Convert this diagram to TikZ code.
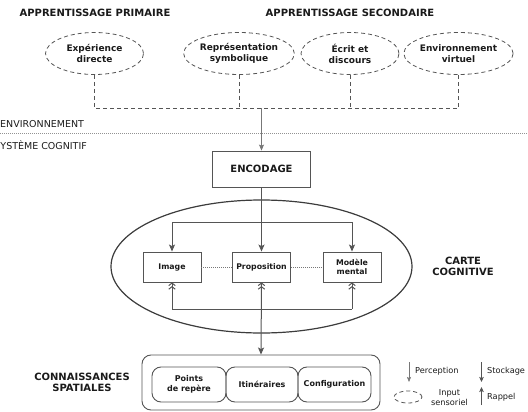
\documentclass[tikz,border=0pt]{standalone}
\usepackage{fontspec}
\setmainfont{DejaVu Sans}
\usetikzlibrary{arrows.meta,shapes.geometric}
\definecolor{ln}{HTML}{555555}
\definecolor{lt}{HTML}{777777}
\definecolor{tx}{HTML}{1A1A1A}
\begin{document}
\begin{tikzpicture}[x=1pt,y=-1pt,
  every node/.style={text=tx},
  title/.style={font=\bfseries\fontsize{10}{11.6}\selectfont, align=center, inner sep=0pt},
  src/.style={ellipse, draw=ln, dash pattern=on 4pt off 3pt, line width=0.8pt, minimum width=98pt, minimum height=42pt, inner sep=0pt, align=center, font=\bfseries\fontsize{9}{11}\selectfont},
  dsh/.style={draw=ln, dash pattern=on 4pt off 3pt, line width=0.8pt},
  enc/.style={draw=ln, line width=0.9pt, minimum width=98pt, minimum height=36pt, inner sep=0pt, font=\bfseries\fontsize{10}{12}\selectfont},
  rep/.style={draw=ln, fill=white, line width=0.9pt, minimum width=58pt, minimum height=30pt, inner sep=0pt, align=center, font=\bfseries\fontsize{7.8}{9.5}\selectfont},
  kn/.style={draw=ln, rounded corners=9pt, line width=0.9pt, minimum height=35pt, inner sep=0pt, align=center, font=\bfseries\fontsize{8}{10}\selectfont},
  conn/.style={draw=ln, line width=1pt},
  down/.style={conn, -{Stealth[length=7pt,width=6pt,inset=1.5pt]}},
  up2/.style={conn, {Straight Barb[length=2.5pt,width=6.5pt]Straight Barb[length=2.5pt,width=6.5pt]}-},
  stem/.style={draw=lt, line width=0.6pt, -{Stealth[length=6pt,width=5pt,inset=1.2pt]}},
  dotl/.style={draw=lt, line width=0.7pt, dash pattern=on 1pt off 1pt},
  legt/.style={font=\fontsize{8.2}{10}\selectfont, inner sep=0pt, align=center}
]
\useasboundingbox (0,0) rectangle (528,412);

% titles
\node[title] (tp) at (95,12.5) {APPRENTISSAGE PRIMAIRE};
\node[title] (ts) at (350,12.5) {APPRENTISSAGE SECONDAIRE};

% sources
\node[src] (e1) at (94.5,53.5) {Expérience\\directe};
\node[src] (e2) at (239,53.5) {Représentation\\symbolique};
\node[src] (e3) at (350,53.5) {Écrit et\\discours};
\node[src] (e4) at (458.5,53.5) {Environnement\\virtuel};
\coordinate (j) at (261.5,108.3);
\draw[dsh] (e1.south) -- (e1.south |- j) -- (e4.south |- j) -- (e4.south);
\draw[dsh] (e2.south) -- (e2.south |- j);
\draw[dsh] (e3.south) -- (e3.south |- j);

% separator
\coordinate (sl) at (0,133);
\coordinate (sr) at (528,133);
\draw[dotl, draw=lt!80] (sl) -- (sr);
\node[anchor=west, inner sep=0pt, font=\fontsize{9.5}{11}\selectfont] (env) at (0,124) {ENVIRONNEMENT};
\node[anchor=west, inner sep=0pt, font=\fontsize{9.5}{11}\selectfont] (sys) at (0.3,145) {YSTÈME COGNITIF};

% encodage
\node[enc] (enc) at (261.5,169) {ENCODAGE};
\draw[stem] (j) -- (enc.north);

% cognitive map
\node[ellipse, draw=tx!85, line width=1.2pt, minimum width=301pt, minimum height=133pt, inner sep=0pt] (big) at (261.5,266.5) {};
\node[rep] (img) at (172,267) {Image};
\node[rep] (prop) at (261.5,267) {Proposition};
\node[rep] (mm) at (352,267) {Modèle\\mental};
\node[title] (cc) at (463,266.5) {CARTE\\COGNITIVE};

\coordinate (b) at (0,222);
\draw[conn] (img.north |- b) -- (mm.north |- b);
\draw[down] (img.north |- b) -- (img.north);
\draw[down] (mm.north |- b) -- (mm.north);
\draw[down] (enc.south) -- (prop.north);
\draw[dotl] (img) -- (prop);
\draw[dotl] (prop) -- (mm);

\coordinate (l) at (0,309);
\draw[conn] (img.south |- l) -- (mm.south |- l);
\draw[up2] (img.south) -- (img.south |- l);
\draw[up2] (mm.south) -- (mm.south |- l);

% spatial knowledge
\node[draw=ln, rounded corners=9pt, line width=0.9pt, minimum width=238pt, minimum height=55pt, inner sep=0pt] (kn) at (261,382.5) {};
\node[kn, minimum width=74pt] (pr) at (189,384.5) {Points\\de repère};
\node[kn, minimum width=72pt] (it) at (262,384.5) {Itinéraires};
\node[kn, minimum width=73pt] (cf) at (334.5,384.5) {Configuration};
\node[title] (cs) at (82,382.5) {CONNAISSANCES\\SPATIALES};
\draw[conn, {Straight Barb[length=2.5pt,width=6.5pt]Straight Barb[length=2.5pt,width=6.5pt]}-{Stealth[length=7pt,width=6pt,inset=1.5pt]}] (prop.south) -- (kn.north);

% legend
\coordinate (pa1) at (409,362);
\coordinate (pa2) at (409,382);
\draw[draw=lt, line width=0.6pt, -{Stealth[length=5pt,width=4pt,inset=1pt]}] (pa1) -- (pa2);
\node[legt, anchor=west] (pt) at (415,371) {Perception};
\coordinate (sa1) at (481.5,362);
\coordinate (sa2) at (481.5,382);
\draw[draw=ln, line width=1.2pt, -{Stealth[length=5pt,width=4.5pt,inset=1pt]}] (sa1) -- (sa2);
\node[legt, anchor=west] (st) at (487,371) {Stockage};
\node[ellipse, draw=ln, dash pattern=on 4pt off 3pt, line width=0.8pt, minimum width=28pt, minimum height=12pt, inner sep=0pt] (ie) at (408,397) {};
\node[legt] (is) at (449.5,398) {Input\\sensoriel};
\coordinate (ra1) at (481.5,405);
\coordinate (ra2) at (481.5,387);
\draw[draw=ln, line width=1.2pt, -{Stealth[length=5pt,width=4.5pt,inset=1pt]}] (ra1) -- (ra2);
\node[legt, anchor=west] (rp) at (487,397.5) {Rappel};
\end{tikzpicture}
\end{document}
